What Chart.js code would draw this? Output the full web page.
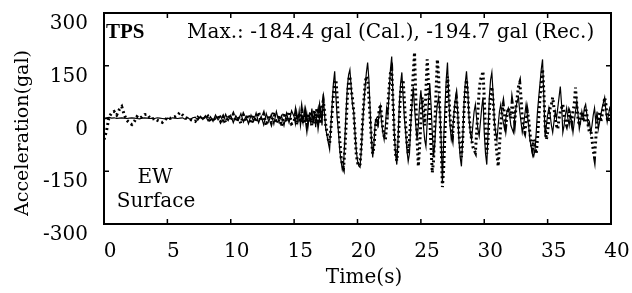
<!DOCTYPE html>
<html>
<head>
<meta charset="utf-8">
<script src="https://cdn.jsdelivr.net/npm/chart.js@4.4.1/dist/chart.umd.min.js"></script>
<style>
html,body{margin:0;padding:0;background:#fff;}
</style>
</head>
<body>
<canvas id="accChart" width="632" height="293"></canvas>
<script>
// time axis: 0.2 s steps up to 14.8 s, then 0.1 s steps to 40 s
let times = [];
for(let i=0;i<75;i++) times.push(+(i*0.2).toFixed(1));
for(let i=0;i<=250;i++) times.push(+(15+i*0.1).toFixed(1));

// calculated (solid line)
let cal = [
    0,2,3,1,2,0,1,2,1,0, 1,2,1,0,-1,1,2,1,0,1,
    0,2,1,0,-1,1,0,2,1,0, 1,2,-2,3,-3,2,
    4,-5,6,-3,8,-6,5,-8,10,-4, 7,-10,12,-6,9,-12,8,-5,14,-10,
    6,-15,10,-8,16,-12,6,-18,14,-9, 12,-16,20,-10,8,-20,15,-12,22,
    5,-15,18,-8,22,-20,10,-12,25,-6,          // 15
    14,-22,8,-10,28,-15,20,-25,12,30,         // 16
    -10,35,-20,70,10,-30,-50,-70,-88,-20,     // 17
    40,100,134,60,0,-40,-90,-120,-145,-130,   // 18
    -60,20,90,125,139,90,40,20,-40,-90,       // 19
    -120,-135,-139,-90,-20,40,90,130,159,110, // 20
    20,-60,-111,-70,-10,0,-20,10,34,-10,      // 21
    -40,-60,-20,30,10,80,140,176,60,-40,      // 22
    -100,-131,-60,40,100,131,60,0,-40,-90,    // 23
    -122,-100,-20,40,90,30,-20,-60,-20,40,    // 24
    80,40,-20,-60,-80,-10,50,100,40,-40,      // 25
    -110,-70,0,40,60,20,-60,-184,-60,30,      // 26
    110,159,60,-20,-60,-40,10,50,74,20,       // 27
    -60,-110,-136,-60,40,100,134,80,0,-40,    // 28
    -60,-20,20,40,0,-30,-50,-10,30,60,        // 29
    -40,-100,-131,-40,60,110,131,70,-10,-40,  // 30
    -60,-20,20,40,10,-10,-30,0,20,30,         // 31
    10,-20,-30,-40,0,30,50,60,20,-10,         // 32
    -40,-20,10,40,10,-20,-60,-80,-100,-108,   // 33
    -90,-40,20,60,100,140,168,60,-51,-20,     // 34
    10,30,10,-20,-40,-10,20,0,30,60,          // 35
    91,40,-40,-20,10,30,0,-20,10,-10,         // 36
    -40,-10,20,50,10,-30,-10,20,0,30,         // 37
    40,10,-20,-10,-40,-20,10,30,-10,20,       // 38
    -30,-10,10,30,45,60,20,-10,10,30,         // 39
    20
];

// recorded (dotted line)
let rec = [
    -60,-35,5,15,20,10,25,34,10,-5, -12,-17,-8,5,0,5,11,12,3,-2,
    0,-5,-8,-11,-4,2,0,3,5,10, 17,10,3,0,-3,-5,
    -8,3,-4,8,-2,6,-10,4,-6,10, -8,5,-12,8,-4,12,-9,6,-14,10,
    -6,12,-15,8,-10,18,-8,12,-20,10, -12,18,-14,10,-22,16,-10,20,-15,
    -10,12,-18,6,15,-12,20,-8,-15,10,         // 15
    -18,15,-10,20,-20,8,25,-15,30,-8,         // 16
    20,-15,30,50,20,-20,-40,-60,-70,-30,      // 17
    20,70,100,110,60,-10,-60,-110,-130,-140,  // 18
    -90,-20,60,110,120,80,60,20,-40,-100,     // 19
    -125,-135,-130,-80,-10,50,100,120,110,60, // 20
    0,-60,-100,-80,-30,0,-10,20,40,10,        // 21
    -30,-50,-60,-20,40,90,130,140,50,-40,     // 22
    -100,-120,-80,0,80,100,110,50,-20,-70,    // 23
    -100,-60,0,60,130,188,60,-60,-136,-80,    // 24
    -10,60,20,-20,80,168,100,0,-80,-154,      // 25
    -120,-20,80,168,120,20,-80,-195,-140,-40, // 26
    40,120,80,0,-30,-50,0,40,60,20,           // 27
    -40,-80,-110,-60,20,80,110,70,10,-30,     // 28
    -60,-80,-90,-97,-40,20,80,110,120,134,    // 29
    60,-40,-100,-60,20,70,90,50,-10,-60,      // 30
    -100,-136,-80,-20,20,40,10,-20,10,30,     // 31
    20,0,45,20,-10,30,60,90,102,60,           // 32
    0,-30,-40,-10,20,0,-40,-70,-88,-60,       // 33
    -80,-100,-60,0,60,100,140,80,-20,-60,     // 34
    -40,0,30,40,60,30,0,-20,-30,0,            // 35
    20,30,40,10,-10,-20,0,20,10,-10,          // 36
    20,40,88,40,0,-20,10,20,0,-10,            // 37
    30,10,-20,-40,-30,-60,-90,-111,-60,0,     // 38
    0,20,-10,10,30,60,40,0,-10,20,            // 39
    30
];

let xTicks = [0,5,10,15,20,25,30,35,40];
let yTicks = [-300,-150,0,150,300];

const serif = "'DejaVu Serif', serif";

// frame, inward ticks on all sides, and the text inside the plot
const framePlugin = {
    id: "frame",
    afterDraw(chart){
        const {ctx, chartArea:a, scales:{x,y}} = chart;
        ctx.save();
        ctx.strokeStyle = "#000";
        ctx.lineWidth = 2;
        ctx.strokeRect(a.left, a.top, a.right-a.left, a.bottom-a.top);
        ctx.lineWidth = 1.5;
        ctx.beginPath();
        xTicks.forEach(v=>{
            let px = x.getPixelForValue(v);
            ctx.moveTo(px, a.top); ctx.lineTo(px, a.top+5);
            ctx.moveTo(px, a.bottom); ctx.lineTo(px, a.bottom-5);
        });
        yTicks.forEach(v=>{
            let py = y.getPixelForValue(v);
            ctx.moveTo(a.left, py); ctx.lineTo(a.left+5, py);
            ctx.moveTo(a.right, py); ctx.lineTo(a.right-5, py);
        });
        ctx.stroke();

        ctx.fillStyle = "#000";
        ctx.textBaseline = "alphabetic";
        ctx.textAlign = "left";
        ctx.font = "bold 21px 'Liberation Serif', serif";
        ctx.fillText("TPS", 106, 38);
        ctx.font = "20px " + serif;
        ctx.fillText("Max.: -184.4 gal (Cal.), -194.7 gal (Rec.)", 187, 38);
        ctx.textAlign = "center";
        ctx.fillText("EW", 155, 183);
        ctx.fillText("Surface", 156, 207);
        ctx.fillText("Time(s)", 364, 283);
        ctx.translate(28, 133);
        ctx.rotate(-Math.PI/2);
        ctx.font = "19px " + serif;
        ctx.fillText("Acceleration(gal)", 0, 0);
        ctx.restore();
    }
};

const accChart = new Chart(document.getElementById("accChart"), {
    type: "line",
    data: {
        datasets: [{
            label: "Rec.",
            data: times.map((t,i)=>({x:t, y:rec[i]})),
            borderColor: "#000",
            borderWidth: 3,
            borderDash: [2, 3],
            pointRadius: 0,
            tension: 0
        },{
            label: "Cal.",
            data: times.map((t,i)=>({x:t, y:cal[i]})),
            borderColor: "#000",
            borderWidth: 1.2,
            pointRadius: 0,
            tension: 0
        }]
    },
    options: {
        responsive: false,
        animation: false,
        layout: {padding: {top: 13, right: 21, left: 0, bottom: 0}},
        plugins: {legend: {display: false}, tooltip: {enabled: false}},
        scales: {
            x: {
                type: "linear",
                min: 0, max: 40,
                afterBuildTicks: s => { s.ticks = xTicks.map(v=>({value:v})); },
                afterFit: s => { s.height = 69; s.paddingLeft = 0; s.paddingRight = 0; },
                grid: {display: false, drawTicks: false},
                border: {display: false},
                ticks: {color: "#000", font: {family: serif, size: 20}, padding: 16, labelOffset: 6, maxRotation: 0}
            },
            y: {
                min: -300, max: 300,
                afterBuildTicks: s => { s.ticks = yTicks.map(v=>({value:v})); },
                afterFit: s => { s.width = 104; s.paddingTop = 0; s.paddingBottom = 0; },
                grid: {display: false, drawTicks: false},
                border: {display: false},
                ticks: {color: "#000", font: {family: serif, size: 20}, padding: 16, labelOffset: 11}
            }
        }
    },
    plugins: [framePlugin]
});
</script>
</body>
</html>
